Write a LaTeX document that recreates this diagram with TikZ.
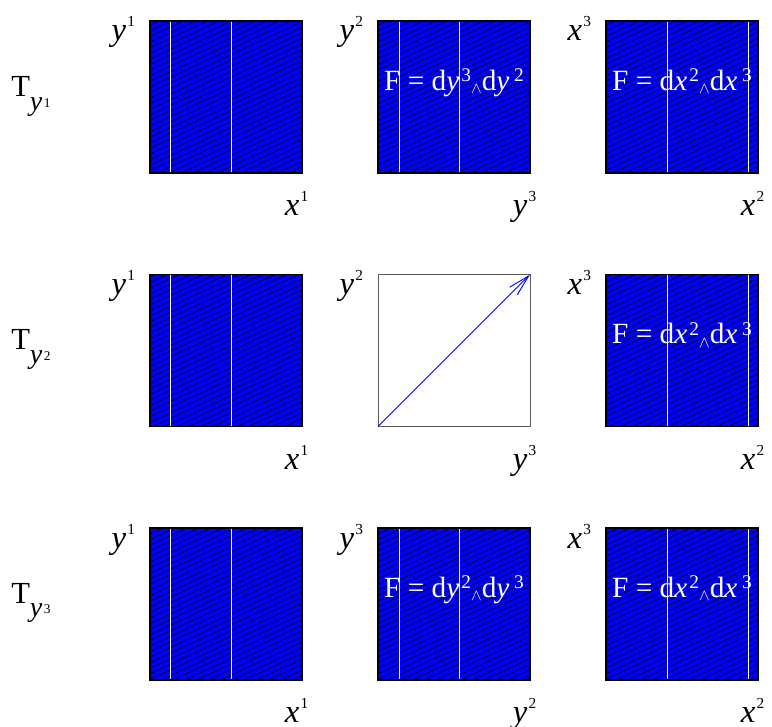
\documentclass[tikz,border=0pt]{standalone}
\usepackage{fontspec}
\setmainfont{Liberation Serif}
\usepackage{tikz}
\usetikzlibrary{calc,patterns.meta,arrows.meta}
\definecolor{formblue}{RGB}{0, 0, 255}
\definecolor{framegray}{RGB}{90, 90, 90}

\newcommand{\axlab}[2]{\textit{#1}\kern1pt\raisebox{10.5pt}{\fontsize{11.5}{11.5}\selectfont #2}}
\newcommand{\tlab}[1]{T\raisebox{-10pt}{\fontsize{21}{21}\selectfont
    \textit{y}\kern1pt\raisebox{2pt}{\fontsize{10}{10}\selectfont #1}}}
\newcommand{\formlab}[4]{F = d\textit{#1}\kern1.5pt\raisebox{6.5pt}{\fontsize{14.5}{14.5}\selectfont #2}%
    \raisebox{-2.6pt}{\fontsize{13}{13}\selectfont$\wedge$}d\textit{#3}\kern3.5pt%
    \raisebox{6.5pt}{\fontsize{14.5}{14.5}\selectfont #4}}

\begin{document}
\begin{tikzpicture}[x=0.75pt, y=-0.75pt,
    cell/.style={rectangle, draw=black, line width=0.9pt,
                 minimum size=114pt, inner sep=0pt, outer sep=0pt},
    filled/.style={cell, preaction={fill=formblue},
                   pattern={Lines[angle=25, distance=3.8pt, line width=0.45pt]},
                   pattern color=black},
    empty/.style={cell, draw=framegray, line width=0.75pt},
    gap/.style={white, line width=0.75pt, shorten <=0.5pt, shorten >=0.5pt},
    axis/.style={inner sep=0pt, anchor=base east,
                 font=\fontsize{24.5}{29}\selectfont},
    rowlab/.style={inner sep=0pt, anchor=base west,
                   font=\fontsize{23}{27}\selectfont},
    form/.style={inner sep=0pt, anchor=base, text=white,
                 font=\fontsize{22}{26}\selectfont},
    vec/.style={-{Straight Barb[length=16pt, width=8pt]}, color=formblue,
                line width=0.7pt}]

    \useasboundingbox (0,0) rectangle (772,727);

    % Row labels
    \node[rowlab] (t1) at (11, 97)  {\tlab{1}};
    \node[rowlab] (t2) at (11, 350) {\tlab{2}};
    \node[rowlab] (t3) at (11, 603) {\tlab{3}};

    % Row 1
    \node[filled] (a1) at (226, 97) {};
    \node[filled] (a2) at (454, 97) {};
    \node[filled] (a3) at (682, 97) {};

    % Row 2
    \node[filled] (b1) at (226, 350.5) {};
    \node[empty]  (b2) at (454, 350.5) {};
    \node[filled] (b3) at (682, 350.5) {};

    % Row 3
    \node[filled] (c1) at (226, 604) {};
    \node[filled] (c2) at (454, 604) {};
    \node[filled] (c3) at (682, 604) {};

    % White gaps
    \draw[gap] ([xshift=15pt]a1.north west) -- ([xshift=15pt]a1.south west);
    \draw[gap] ([xshift=60.75pt]a1.north west) -- ([xshift=60.75pt]a1.south west);
    \draw[gap] ([xshift=15.75pt]a2.north west) -- ([xshift=15.75pt]a2.south west);
    \draw[gap] ([xshift=60.75pt]a2.north west) -- ([xshift=60.75pt]a2.south west);
    \draw[gap] ([xshift=45.75pt]a3.north west) -- ([xshift=45.75pt]a3.south west);
    \draw[gap] ([xshift=106.5pt]a3.north west) -- ([xshift=106.5pt]a3.south west);

    \draw[gap] ([xshift=15pt]b1.north west) -- ([xshift=15pt]b1.south west);
    \draw[gap] ([xshift=60.75pt]b1.north west) -- ([xshift=60.75pt]b1.south west);
    \draw[gap] ([xshift=45.75pt]b3.north west) -- ([xshift=45.75pt]b3.south west);
    \draw[gap] ([xshift=106.5pt]b3.north west) -- ([xshift=106.5pt]b3.south west);

    \draw[gap] ([xshift=15pt]c1.north west) -- ([xshift=15pt]c1.south west);
    \draw[gap] ([xshift=60.75pt]c1.north west) -- ([xshift=60.75pt]c1.south west);
    \draw[gap] ([xshift=15.75pt]c2.north west) -- ([xshift=15.75pt]c2.south west);
    \draw[gap] ([xshift=60.75pt]c2.north west) -- ([xshift=60.75pt]c2.south west);
    \draw[gap] ([xshift=45.75pt]c3.north west) -- ([xshift=45.75pt]c3.south west);
    \draw[gap] ([xshift=106.5pt]c3.north west) -- ([xshift=106.5pt]c3.south west);

    % Forms
    \node[form] (fa2) at ([yshift=5pt]a2.center) {\formlab{y}{3}{y}{2}};
    \node[form] (fa3) at ([yshift=5pt]a3.center) {\formlab{x}{2}{x}{3}};
    \node[form] (fb3) at ([yshift=5pt]b3.center) {\formlab{x}{2}{x}{3}};
    \node[form] (fc2) at ([yshift=5pt]c2.center) {\formlab{y}{2}{y}{3}};
    \node[form] (fc3) at ([yshift=5pt]c3.center) {\formlab{x}{2}{x}{3}};

    % Vector
    \draw[vec] (b2.south west) -- (b2.north east);

    % Axis labels, row 1
    \node[axis] (a1t) at ([xshift=-11pt, yshift=-15pt]a1.north west) {\axlab{y}{1}};
    \node[axis] (a1b) at ([xshift=5pt, yshift=-32pt]a1.south east)   {\axlab{x}{1}};
    \node[axis] (a2t) at ([xshift=-11pt, yshift=-15pt]a2.north west) {\axlab{y}{2}};
    \node[axis] (a2b) at ([xshift=5pt, yshift=-32pt]a2.south east)   {\axlab{y}{3}};
    \node[axis] (a3t) at ([xshift=-11pt, yshift=-15pt]a3.north west) {\axlab{x}{3}};
    \node[axis] (a3b) at ([xshift=5pt, yshift=-32pt]a3.south east)   {\axlab{x}{2}};

    % Axis labels, row 2
    \node[axis] (b1t) at ([xshift=-11pt, yshift=-15pt]b1.north west) {\axlab{y}{1}};
    \node[axis] (b1b) at ([xshift=5pt, yshift=-32pt]b1.south east)   {\axlab{x}{1}};
    \node[axis] (b2t) at ([xshift=-11pt, yshift=-15pt]b2.north west) {\axlab{y}{2}};
    \node[axis] (b2b) at ([xshift=5pt, yshift=-32pt]b2.south east)   {\axlab{y}{3}};
    \node[axis] (b3t) at ([xshift=-11pt, yshift=-15pt]b3.north west) {\axlab{x}{3}};
    \node[axis] (b3b) at ([xshift=5pt, yshift=-32pt]b3.south east)   {\axlab{x}{2}};

    % Axis labels, row 3
    \node[axis] (c1t) at ([xshift=-11pt, yshift=-15pt]c1.north west) {\axlab{y}{1}};
    \node[axis] (c1b) at ([xshift=5pt, yshift=-32pt]c1.south east)   {\axlab{x}{1}};
    \node[axis] (c2t) at ([xshift=-11pt, yshift=-15pt]c2.north west) {\axlab{y}{3}};
    \node[axis] (c2b) at ([xshift=5pt, yshift=-32pt]c2.south east)   {\axlab{y}{2}};
    \node[axis] (c3t) at ([xshift=-11pt, yshift=-15pt]c3.north west) {\axlab{x}{3}};
    \node[axis] (c3b) at ([xshift=5pt, yshift=-32pt]c3.south east)   {\axlab{x}{2}};
\end{tikzpicture}
\end{document}
